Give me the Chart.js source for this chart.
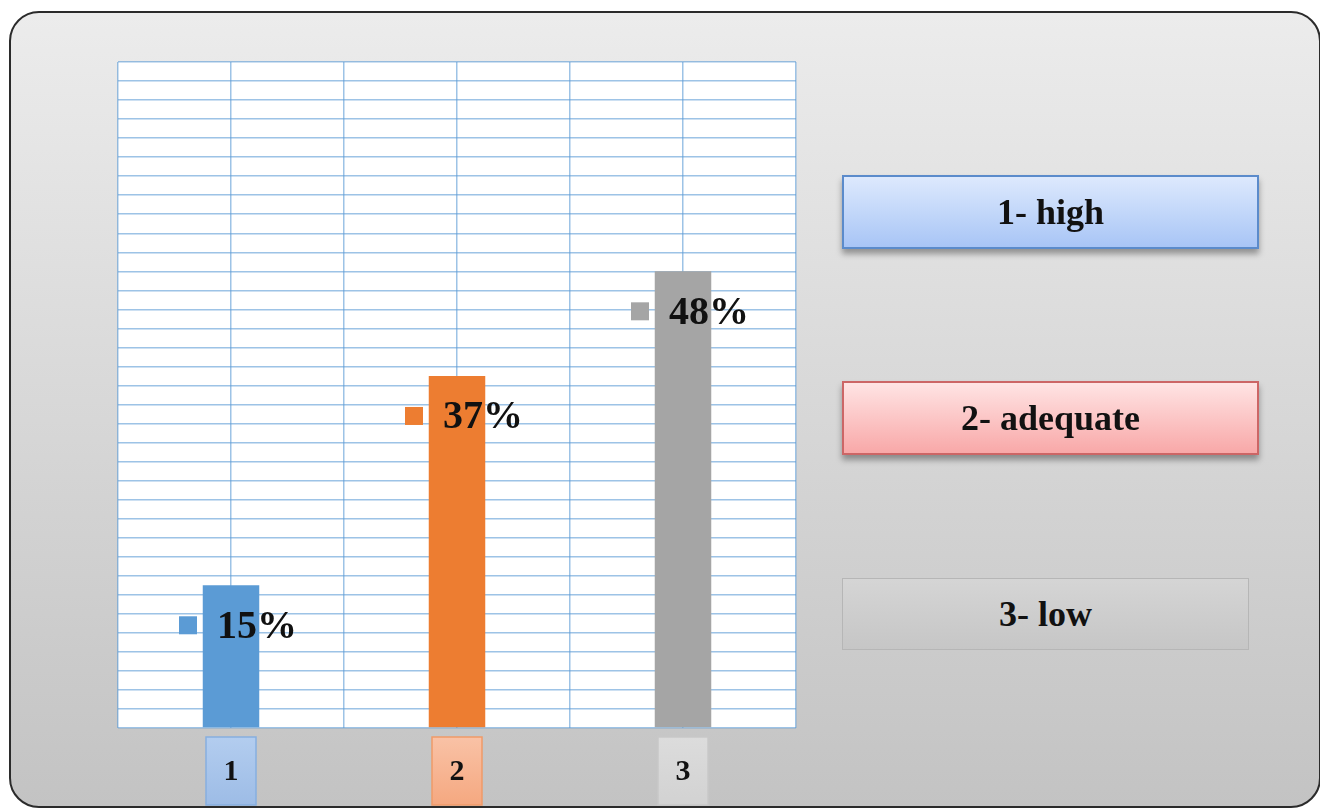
<!DOCTYPE html>
<html lang="en">
<head>
<meta charset="UTF-8">
<title>Level distribution</title>
<script src="https://cdn.jsdelivr.net/npm/chart.js"></script>
<style>
    body {
        margin: 0;
        width: 1320px;
        height: 809px;
        background: #ffffff;
        position: relative;
        overflow: hidden;
        font-family: "Liberation Serif", "Times New Roman", serif;
    }

    .frame {
        position: absolute;
        left: 9px;
        top: 11px;
        width: 1308px;
        height: 793px;
        border: 2px solid #2b2b2b;
        border-radius: 30px;
        background: linear-gradient(#ececec, #c3c3c3);
    }

    #chart {
        position: absolute;
        left: 0;
        top: 0;
    }

    .legend-box {
        position: absolute;
        left: 842px;
        width: 413px;
        height: 70px;
        display: flex;
        align-items: center;
        justify-content: center;
        font-weight: bold;
        font-size: 36px;
        color: #111;
    }
</style>
</head>
<body>
<div class="frame"></div>
<canvas id="chart" width="1320" height="809"></canvas>
<div id="legend"></div>

<script>
    // chart data
    const categories = ['1', '2', '3'];
    const values = [15, 37, 48];
    const legendLabels = ['1- high', '2- adequate', '3- low'];
    const barColors = ['#5b9bd5', '#ed7d31', '#a5a5a5'];
    const yMax = 70;
    const yStep = 2;

    // legend boxes on the right
    const legendStyles = [
        { top: 175, border: '2px solid #5b8bcb', bg: 'linear-gradient(#dde9fd, #a8c5f6)', shadow: '0 5px 6px rgba(0,0,0,0.35)' },
        { top: 381, border: '2px solid #cc6666', bg: 'linear-gradient(#ffe4e4, #f8a8a8)', shadow: '0 5px 6px rgba(0,0,0,0.35)' },
        { top: 578, border: '1px solid #b6b6b6', bg: 'linear-gradient(#d5d5d5, #c6c6c6)', shadow: 'none', width: 405 }
    ];
    const legendEl = document.getElementById('legend');
    legendLabels.forEach((text, i) => {
        const s = legendStyles[i];
        const d = document.createElement('div');
        d.className = 'legend-box';
        d.textContent = text;
        d.style.top = s.top + 'px';
        d.style.border = s.border;
        d.style.background = s.bg;
        d.style.boxShadow = s.shadow;
        if (s.width) d.style.width = s.width + 'px';
        legendEl.appendChild(d);
    });

    const gridColor = 'rgba(91, 155, 213, 0.6)';

    // white plot background
    const plotBg = {
        id: 'plotBg',
        beforeDraw(chart) {
            const { ctx, chartArea: a } = chart;
            ctx.save();
            ctx.fillStyle = '#ffffff';
            ctx.fillRect(a.left, a.top, a.right - a.left, a.bottom - a.top);
            ctx.restore();
        }
    };

    // value labels: small colour square + percentage, inside the top of each bar
    const valueLabels = {
        id: 'valueLabels',
        afterDatasetsDraw(chart) {
            const ctx = chart.ctx;
            const meta = chart.getDatasetMeta(0);
            ctx.save();
            meta.data.forEach((bar, i) => {
                const cy = bar.y + 40;
                ctx.fillStyle = barColors[i];
                ctx.fillRect(bar.x - 52, cy - 9, 18, 18);
                ctx.fillStyle = '#111';
                ctx.font = 'bold 40px "Liberation Serif"';
                ctx.textAlign = 'left';
                ctx.textBaseline = 'middle';
                ctx.fillText(values[i] + '%', bar.x - 14, cy + 2);
            });
            ctx.restore();
        }
    };

    // category labels drawn in little boxes under the bars
    const tickBoxes = {
        id: 'tickBoxes',
        afterDraw(chart) {
            const ctx = chart.ctx;
            const xs = chart.scales.x;
            const fills = [['#b3cdef', '#9dbce6', '#86afe0'], ['#f9c2a6', '#f5a880', '#f09a68'], ['#dcdcdc', '#d2d2d2', '#c8c8c8']];
            ctx.save();
            categories.forEach((c, i) => {
                const x = xs.getPixelForValue(i);
                const top = 737, h = 68, w = 50;
                const g = ctx.createLinearGradient(0, top, 0, top + h);
                g.addColorStop(0, fills[i][0]);
                g.addColorStop(1, fills[i][1]);
                ctx.fillStyle = g;
                ctx.fillRect(x - w / 2, top, w, h);
                ctx.strokeStyle = fills[i][2];
                ctx.lineWidth = 1.5;
                ctx.strokeRect(x - w / 2, top, w, h);
                ctx.fillStyle = '#111';
                ctx.font = 'bold 30px "Liberation Serif"';
                ctx.textAlign = 'center';
                ctx.textBaseline = 'middle';
                ctx.fillText(c, x, top + 35);
            });
            ctx.restore();
        }
    };

    new Chart(document.getElementById('chart'), {
        type: 'bar',
        data: {
            labels: categories,
            datasets: [{
                data: values,
                backgroundColor: barColors,
                borderWidth: 0,
                categoryPercentage: 1,
                barPercentage: 0.25
            }]
        },
        options: {
            responsive: false,
            animation: false,
            devicePixelRatio: 1,
            layout: {
                padding: { left: 118, top: 62, right: 524, bottom: 73 }
            },
            plugins: {
                legend: { display: false },
                tooltip: { enabled: false }
            },
            scales: {
                x: {
                    offset: true,
                    grid: { display: false },
                    ticks: { display: false },
                    border: { display: false }
                },
                // half-category grid lines
                x2: {
                    type: 'linear',
                    position: 'bottom',
                    offset: false,
                    min: 0,
                    max: 6,
                    ticks: { display: false, stepSize: 1 },
                    grid: { color: gridColor, lineWidth: 1.5, drawTicks: false, offset: false },
                    border: { display: false }
                },
                y: {
                    min: 0,
                    max: yMax,
                    ticks: { display: false, stepSize: yStep },
                    grid: { color: gridColor, lineWidth: 1.5, drawTicks: false },
                    border: { display: false }
                }
            }
        },
        plugins: [plotBg, valueLabels, tickBoxes]
    });
</script>
</body>
</html>
